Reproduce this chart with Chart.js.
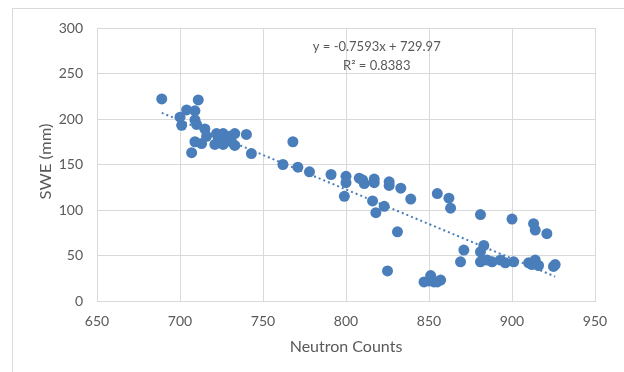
<!DOCTYPE html>
<html lang="en">
<head>
  <meta charset="UTF-8" />
  <title>SWE vs Neutron Counts</title>
  <script src="https://cdn.jsdelivr.net/npm/chart.js@4.4.1/dist/chart.umd.min.js"></script>
  <style>
    * { box-sizing: border-box; margin: 0; padding: 0; }
    html, body { width: 624px; height: 372px; background: #fff; overflow: hidden; }
    .frame {
      position: absolute;
      left: 12px; top: 8px;
      width: 640px; height: 400px;
      border: 1px solid #d9d9d9;
    }
    .chart-wrapper {
      position: absolute;
      left: 0; top: 0;
      width: 624px; height: 372px;
    }
  </style>
</head>
<body>
  <div class="frame"></div>
  <div class="chart-wrapper">
    <canvas id="sweChart"></canvas>
  </div>

  <script>
    // neutron counts (x) and SWE in mm (y)
    const neutronCounts = [
      689, 711, 704, 709, 700, 701, 709, 710, 707, 709, 713, 715, 716,
      721, 722, 726, 726, 723, 730, 733, 733, 731, 727, 740, 743,
      762, 768, 771, 778, 791, 800, 800, 799, 808, 810, 811, 817, 817,
      816, 823, 818, 826, 826, 831, 825, 833, 839, 855, 862, 863,
      847, 851, 850, 853, 855, 857, 869, 871, 881, 883, 881, 881,
      885, 888, 893, 896, 900, 901, 910, 912, 914, 913, 914, 916, 921, 925, 926
    ];
    const sweValues = [
      222, 221, 210, 209, 202, 193, 199, 194, 163, 175, 173, 189, 181,
      172, 184, 184, 172, 179, 181, 184, 171, 175, 175, 183, 162,
      150, 175, 147, 142, 139, 137, 130, 115, 135, 133, 129, 134, 130,
      110, 104, 97, 131, 127, 76, 33, 124, 112, 118, 113, 102,
      21, 28, 22, 21, 21, 23, 43, 56, 95, 61, 54, 43,
      45, 43, 45, 42, 90, 43, 42, 40, 45, 85, 78, 39, 74, 38, 40
    ];

    // linear trendline shown on the chart
    const trendSlope = -0.7593;
    const trendIntercept = 729.97;
    const trendLabel = 'y = -0.7593x + 729.97';
    const r2Label = 'R² = 0.8383';
    const yTitle = 'SWE (mm)';

    const xTicks = [650, 700, 750, 800, 850, 900, 950];
    const yTicks = [0, 50, 100, 150, 200, 250, 300];

    const pointColor = '#4a7ebb';
    const textColor = '#595959';
    const gridColor = '#d9d9d9';
    const fontFamily = 'Lato, "Open Sans", sans-serif';

    const points = neutronCounts.map((x, i) => ({ x: x, y: sweValues[i] }));
    const xMin = Math.min(...neutronCounts);
    const xMax = Math.max(...neutronCounts);
    const trendPoints = [
      { x: xMin, y: trendSlope * xMin + trendIntercept },
      { x: xMax, y: trendSlope * xMax + trendIntercept }
    ];

    // equation text + the stretched vertical axis title
    const textPlugin = {
      id: 'extraText',
      afterDatasetsDraw(chart) {
        const { ctx, scales, chartArea } = chart;
        const cx = scales.x.getPixelForValue(818.5);
        ctx.save();
        ctx.fillStyle = textColor;
        ctx.font = '13px ' + fontFamily;
        ctx.textAlign = 'center';
        ctx.textBaseline = 'middle';
        ctx.fillText(trendLabel, cx, scales.y.getPixelForValue(279.5));
        ctx.fillText(r2Label, cx, scales.y.getPixelForValue(258.5));

        ctx.font = '15px ' + fontFamily;
        const w = ctx.measureText(yTitle).width;
        ctx.translate(46, (chartArea.top + chartArea.bottom) / 2 - 3);
        ctx.rotate(-Math.PI / 2);
        ctx.scale(76 / w, 1);
        ctx.fillText(yTitle, 0, 0);
        ctx.restore();
      }
    };

    new Chart(document.getElementById('sweChart'), {
      type: 'scatter',
      data: {
        datasets: [
          {
            label: 'SWE',
            data: points,
            backgroundColor: pointColor,
            borderColor: pointColor,
            pointRadius: 5.5,
            pointHoverRadius: 5.5,
            borderWidth: 0,
            order: 0
          },
          {
            type: 'line',
            label: 'Linear',
            data: trendPoints,
            borderColor: pointColor,
            borderWidth: 2,
            borderDash: [2, 3],
            pointRadius: 0,
            fill: false,
            order: 1
          }
        ]
      },
      options: {
        responsive: true,
        maintainAspectRatio: false,
        animation: false,
        layout: { padding: { left: 0, top: 28, right: 29, bottom: 0 } },
        plugins: {
          legend: { display: false },
          tooltip: { enabled: false }
        },
        scales: {
          x: {
            type: 'linear',
            min: 650,
            max: 950,
            afterBuildTicks: scale => { scale.ticks = xTicks.map(v => ({ value: v })); },
            afterFit: scale => { scale.height = 71; },
            grid: { color: gridColor, drawTicks: false },
            border: { color: gridColor },
            ticks: {
              color: textColor,
              padding: 12,
              font: { family: fontFamily, size: 14 }
            },
            title: {
              display: true,
              text: 'Neutron Counts',
              color: textColor,
              font: { family: fontFamily, size: 16 },
              padding: { top: 4, bottom: 16 }
            }
          },
          y: {
            min: 0,
            max: 300,
            afterBuildTicks: scale => { scale.ticks = yTicks.map(v => ({ value: v })); },
            afterFit: scale => { scale.width = 97; },
            grid: { color: gridColor, drawTicks: false },
            border: { color: gridColor },
            ticks: {
              color: textColor,
              padding: 14,
              font: { family: fontFamily, size: 14 }
            },
            title: { display: false }
          }
        }
      },
      plugins: [textPlugin]
    });
  </script>
</body>
</html>
